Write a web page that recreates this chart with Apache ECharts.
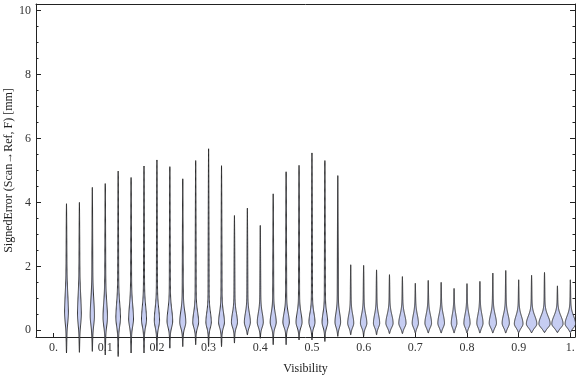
<!DOCTYPE html>
<html>
<head>
<meta charset="utf-8">
<script src="https://cdn.jsdelivr.net/npm/echarts@6/dist/echarts.min.js"></script>
<style>
  html, body { margin: 0; padding: 0; background: #fff; }
  #main { width: 576px; height: 377px; }
</style>
</head>
<body>
<div id="main"></div>
<script>
// one violin per visibility bin
var visibility = [0.025, 0.05, 0.075, 0.1, 0.125, 0.15, 0.175, 0.2, 0.225, 0.25,
                  0.275, 0.3, 0.325, 0.35, 0.375, 0.4, 0.425, 0.45, 0.475, 0.5,
                  0.525, 0.55, 0.575, 0.6, 0.625, 0.65, 0.675, 0.7, 0.725, 0.75,
                  0.775, 0.8, 0.825, 0.85, 0.875, 0.9, 0.925, 0.95, 0.975, 1.0];
var errMax = [3.96, 4.00, 4.47, 4.59, 4.98, 4.78, 5.14, 5.33, 5.12, 4.74,
              5.31, 5.68, 5.15, 3.59, 3.82, 3.28, 4.27, 4.96, 5.16, 5.55,
              5.31, 4.84, 2.05, 2.03, 1.89, 1.74, 1.68, 1.47, 1.56, 1.50,
              1.31, 1.46, 1.53, 1.79, 1.87, 1.58, 1.72, 1.81, 1.39, 1.58];
var errMin = [-0.71, -0.69, -0.66, -0.77, -0.82, -0.71, -0.71, -0.61, -0.56, -0.51,
              -0.45, -0.51, -0.51, -0.40, -0.14, -0.25, -0.45, -0.45, -0.30, -0.30,
              -0.35, -0.19, -0.14, -0.19, -0.14, -0.10, -0.10, -0.08, -0.08, -0.08,
              -0.08, -0.08, -0.08, -0.08, -0.08, -0.07, -0.07, -0.06, -0.06, -0.06];
// where the density peaks, how high the peak is, and its spread above / below
var errMode = [0.55, 0.50, 0.45, 0.40, 0.38, 0.35, 0.33, 0.30, 0.28, 0.25,
               0.25, 0.25, 0.25, 0.25, 0.25, 0.25, 0.25, 0.25, 0.25, 0.25,
               0.25, 0.25, 0.22, 0.22, 0.22, 0.22, 0.22, 0.22, 0.22, 0.22,
               0.22, 0.22, 0.22, 0.22, 0.22, 0.20, 0.20, 0.20, 0.20, 0.20];
var peakDensity = [1.3, 1.3, 1.5, 1.6, 1.7, 1.8, 1.9, 2.0, 2.2, 2.4,
                   2.3, 2.1, 2.3, 2.4, 2.4, 2.4, 2.4, 2.6, 2.4, 2.4,
                   2.2, 2.2, 2.4, 2.6, 2.5, 3.0, 3.0, 2.5, 2.7, 2.7,
                   2.2, 2.5, 2.5, 3.0, 3.0, 3.7, 4.6, 5.0, 5.0, 4.6];
var spreadUp = [0.55, 0.55, 0.50, 0.46, 0.44, 0.42, 0.40, 0.38, 0.36, 0.33,
                0.31, 0.30, 0.30, 0.28, 0.28, 0.28, 0.28, 0.28, 0.28, 0.28,
                0.28, 0.28, 0.26, 0.26, 0.26, 0.26, 0.26, 0.26, 0.26, 0.26,
                0.26, 0.26, 0.26, 0.26, 0.26, 0.24, 0.24, 0.24, 0.24, 0.24];
var spreadDown = [0.30, 0.30, 0.28, 0.26, 0.24, 0.22, 0.20, 0.20, 0.18, 0.17,
                  0.16, 0.16, 0.16, 0.15, 0.15, 0.15, 0.15, 0.15, 0.15, 0.15,
                  0.15, 0.15, 0.13, 0.13, 0.13, 0.13, 0.13, 0.13, 0.13, 0.13,
                  0.13, 0.13, 0.13, 0.13, 0.13, 0.12, 0.12, 0.12, 0.12, 0.12];

var xTicks = [0, 0.1, 0.2, 0.3, 0.4, 0.5, 0.6, 0.7, 0.8, 0.9, 1];
var xTickLabels = ['0.', '0.1', '0.2', '0.3', '0.4', '0.5', '0.6', '0.7', '0.8', '0.9', '1.'];
var yMajor = [0, 2, 4, 6, 8, 10];
var yMinor = [0, 0.5, 1, 1.5, 2, 2.5, 3, 3.5, 4, 4.5, 5, 5.5, 6, 6.5, 7, 7.5, 8, 8.5, 9, 9.5, 10];

var DENS_X = 0.00194;   // density unit -> x data units
var TAIL_X = 0.0012;    // half width of the thin tail

var violinData = [];
for (var i = 0; i < visibility.length; i++) {
  violinData.push([visibility[i], errMin[i], errMax[i], errMode[i], peakDensity[i], spreadUp[i], spreadDown[i]]);
}

function renderViolin(params, api) {
  var x = api.value(0), lo = api.value(1), hi = api.value(2), mode = api.value(3);
  var dens = api.value(4), su = api.value(5), sd = api.value(6);
  var n = 160, right = [], left = [];
  for (var k = 0; k <= n; k++) {
    var y = lo + (hi - lo) * k / n;
    var s = y >= mode ? su : sd;
    var bulge = dens * DENS_X * Math.exp(-0.5 * Math.pow((y - mode) / s, 2));
    var taper = y >= mode ? (hi - y) / (hi - mode) : (y - lo) / (mode - lo);
    var hw = bulge + TAIL_X * Math.pow(Math.max(taper, 0), 0.6);
    right.push(api.coord([x + hw, y]));
    left.push(api.coord([x - hw, y]));
  }
  return {
    type: 'polygon',
    shape: { points: right.concat(left.reverse()) },
    style: { fill: '#c6cdf2', stroke: '#222', lineWidth: 0.9 }
  };
}

var serif = 'Liberation Serif';
var yMin = -0.21, yMax = 10.21;

function yAx(pos, values, len, labels, line) {
  return {
    type: 'value', position: pos, min: yMin, max: yMax,
    axisLine: { show: line, onZero: false, lineStyle: { color: '#222', width: 1 } },
    axisTick: { show: true, inside: true, length: len, customValues: values, lineStyle: { color: '#222' } },
    axisLabel: labels ? { show: true, customValues: yMajor, margin: 5, color: '#333', fontFamily: serif, fontSize: 12 } : { show: false },
    splitLine: { show: false }
  };
}

var chart = echarts.init(document.getElementById('main'));
var yLeft = yAx('left', yMajor, 5, true, true);
yLeft.name = 'SignedError (Scan\u2192Ref, F) [mm]';
yLeft.nameLocation = 'middle';
yLeft.nameGap = 21;
yLeft.nameMoveOverlap = false;
yLeft.nameTextStyle = { color: '#222', fontFamily: serif, fontSize: 12 };

chart.setOption({
  backgroundColor: '#fff',
  animation: false,
  grid: { left: 36, right: 1, top: 4, bottom: 40, containLabel: false, outerBoundsMode: 'none' },
  xAxis: [{
    type: 'value', position: 'bottom', min: -0.034, max: 1.009,
    name: 'Visibility', nameLocation: 'middle', nameGap: 26, nameMoveOverlap: false,
    nameTextStyle: { color: '#222', fontFamily: serif, fontSize: 12 },
    axisLine: { show: true, onZero: false, lineStyle: { color: '#222', width: 1 } },
    axisTick: { show: true, inside: true, length: 4, customValues: xTicks, lineStyle: { color: '#222' } },
    axisLabel: {
      show: true, customValues: xTicks, margin: 5, color: '#333', fontFamily: serif, fontSize: 12,
      formatter: function (v) {
        var best = 0;
        for (var j = 0; j < xTicks.length; j++) {
          if (Math.abs(xTicks[j] - v) < Math.abs(xTicks[best] - v)) best = j;
        }
        return xTickLabels[best];
      }
    },
    splitLine: { show: false }
  }, {
    type: 'value', position: 'top', min: -0.034, max: 1.009,
    axisLine: { show: true, onZero: false, lineStyle: { color: '#222', width: 1 } },
    axisTick: { show: false }, axisLabel: { show: false }, splitLine: { show: false }
  }],
  yAxis: [
    yLeft,
    yAx('left', yMinor, 2.5, false, false),
    yAx('right', yMajor, 5, false, true),
    yAx('right', yMinor, 2.5, false, false)
  ],
  series: [{
    type: 'custom',
    name: 'SignedError',
    clip: false,
    xAxisIndex: 0,
    yAxisIndex: 0,
    renderItem: renderViolin,
    encode: { x: 0, y: [1, 2] },
    data: violinData
  }]
});
</script>
</body>
</html>
